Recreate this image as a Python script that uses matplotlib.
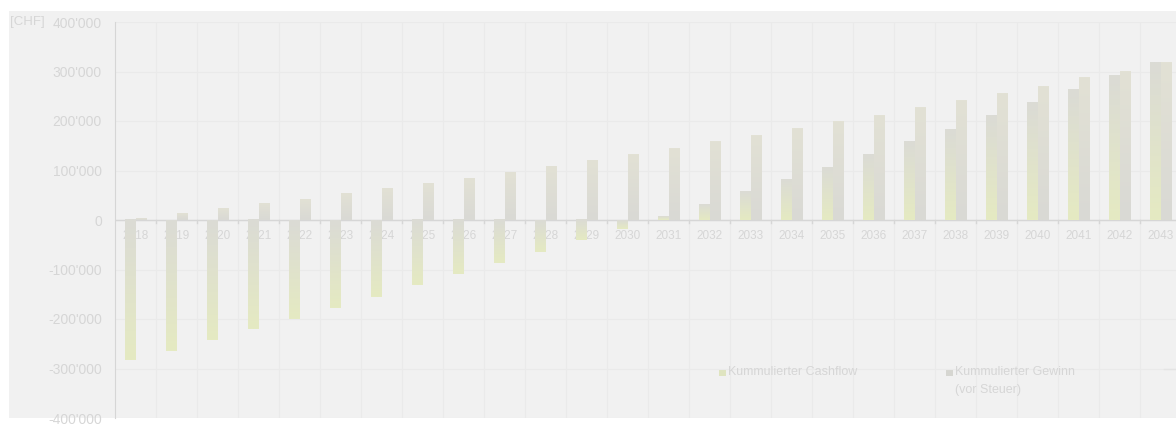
import numpy as np
import matplotlib
matplotlib.use('Agg')
import matplotlib.pyplot as plt
from matplotlib.colors import LinearSegmentedColormap
from matplotlib.patches import Rectangle

years = [str(y) for y in range(2018, 2044)]
cashflow = [-283000, -264000, -242000, -221000, -199000, -177000, -155000,
            -132000, -110000, -87000, -64000, -41000, -18000, 7000, 32000,
            57000, 81000, 106000, 133000, 158000, 183000, 211000, 237000,
            264000, 291000, 319000]
gewinn = [3000, 14000, 23000, 33000, 42000, 54000, 64000, 74000, 84000,
          95000, 108000, 120000, 133000, 145000, 158000, 171000, 184000,
          199000, 212000, 227000, 242000, 256000, 270000, 287000, 301000,
          319000]
yticks = [400000, 300000, 200000, 100000, 0, -100000, -200000, -300000, -400000]
ytick_labels = ["400'000", "300'000", "200'000", "100'000", "0",
                "-100'000", "-200'000", "-300'000", "-400'000"]

plt.rcParams['font.family'] = ['Liberation Sans', 'DejaVu Sans']
txt = '#d6d6d6'
W, H = 1176, 428

fig = plt.figure(figsize=(W / 100, H / 100), dpi=100, facecolor='white')
# grey panel behind the chart
fig.patches.append(Rectangle((9 / W, 10 / H), 1 - 9 / W, (418 - 11) / H,
                             transform=fig.transFigure, facecolor='#f1f1f1',
                             edgecolor='none', zorder=-5))

ax = fig.add_axes([115 / W, 10 / H, (W - 115) / W, 396 / H])
ax.set_facecolor('none')
ax.set_zorder(2)

x = np.arange(len(years))
bw = 0.256
slot_px = 41
xmax = -0.5 + (W - 115) / slot_px

cf_bars = ax.bar(x - bw / 2, cashflow, bw, color='none', zorder=3)
gw_bars = ax.bar(x + bw / 2, gewinn, bw, color='none', zorder=3)

# vertical gradient inside each bar (grey on top, tinted at the bottom)
cmap_cf = LinearSegmentedColormap.from_list('cf', ['#dbdbd5', '#e5eac2'])
cmap_gw = LinearSegmentedColormap.from_list('gw', ['#e2e1d5', '#d9d9d4'])
grad = np.linspace(0, 1, 64).reshape(-1, 1)
for bars, cm in [(cf_bars, cmap_cf), (gw_bars, cmap_gw)]:
    for b in bars:
        x0, w = b.get_x(), b.get_width()
        y0, h = b.get_y(), b.get_height()
        lo, hi = min(y0, y0 + h), max(y0, y0 + h)
        ax.imshow(grad, extent=[x0, x0 + w, lo, hi], origin='upper',
                  cmap=cm, aspect='auto', zorder=3, interpolation='bilinear')

ax.set_xlim(-0.5, xmax)
ax.set_ylim(-400000, 400000)

# grid
for xb in np.arange(0.5, xmax, 1):
    ax.axvline(xb, color='#eaeaea', lw=0.8, zorder=1)
for yv in yticks:
    ax.axhline(yv, color='#eaeaea', lw=0.8, zorder=1)
ax.axhline(0, color='#d6d6d6', lw=1, zorder=2)
for xb in np.arange(0.5, xmax, 1):
    ax.plot([xb, xb], [0, -7000], color='#d6d6d6', lw=1, zorder=2)

for s in ['top', 'right', 'bottom']:
    ax.spines[s].set_visible(False)
ax.spines['left'].set_color('#d6d6d6')
ax.spines['left'].set_zorder(2)

ax.set_xticks([])
ax.set_yticks(yticks)
ax.set_yticklabels(ytick_labels, color=txt, fontsize=10)
ax.tick_params(axis='y', length=0, pad=9.5)

for i, yr in enumerate(years):
    ax.text(i, -32000, yr, ha='center', va='center', color=txt,
            fontsize=8.5, zorder=2)

fig.text(10 / W, 1 - 22 / H, '[CHF]', color=txt, fontsize=9.5,
         ha='left', va='center')

# legend
def fig_xy(px, py):
    return px / W, 1 - py / H

fig.patches.append(Rectangle(fig_xy(719, 376), 7 / W, 7 / H,
                             transform=fig.transFigure, facecolor='#dfe4c0',
                             edgecolor='none'))
fig.text(*fig_xy(728, 372), 'Kummulierter Cashflow', color=txt,
         fontsize=9, ha='left', va='center')
fig.patches.append(Rectangle(fig_xy(946, 376), 7 / W, 7 / H,
                             transform=fig.transFigure, facecolor='#d6d6d1',
                             edgecolor='none'))
fig.text(*fig_xy(955, 372), 'Kummulierter Gewinn', color=txt,
         fontsize=9, ha='left', va='center')
fig.text(*fig_xy(955, 390), '(vor Steuer)', color=txt,
         fontsize=9, ha='left', va='center')
fig.lines.append(plt.Line2D([1164 / W, 1176 / W], [1 - 369 / H] * 2,
                            transform=fig.transFigure, color='#e4e4e4', lw=1))

fig.savefig('out.png', dpi=100, facecolor='white')
